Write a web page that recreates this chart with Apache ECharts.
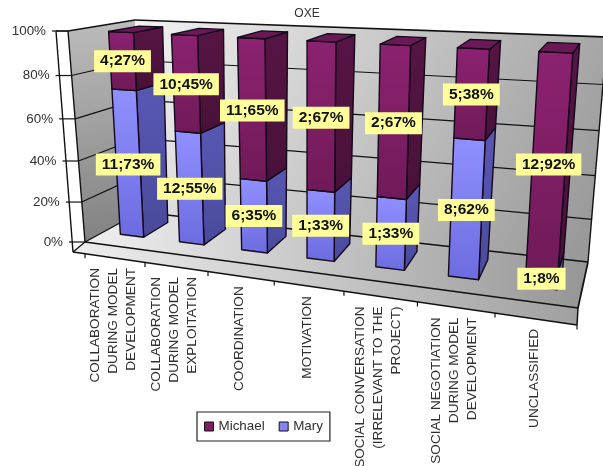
<!DOCTYPE html>
<html>
<head>
<meta charset="utf-8">
<style>html,body{margin:0;padding:0;background:#fff}#c{width:603px;height:466px;filter:blur(0.4px)}</style>
<script src="https://cdn.jsdelivr.net/npm/echarts@6/dist/echarts.min.js"></script>
</head>
<body>
<div id="c"></div>
<script>
var categories = [
  'COLLABORATION\nDURING MODEL\nDEVELOPMENT',
  'COLLABORATION\nDURING MODEL\nEXPLOITATION',
  'COORDINATION',
  'MOTIVATION',
  'SOCIAL CONVERSATION\n(IRRELEVANT TO THE\nPROJECT)',
  'SOCIAL NEGOTIATION\nDURING MODEL\nDEVELOPMENT',
  'UNCLASSIFIED'
];
var maryCounts = [11, 12, 6, 1, 1, 8, 1];
var michaelCounts = [4, 10, 11, 2, 2, 5, 12];
var maryPct = [73, 55, 35, 33, 33, 62, 8];
var michaelPct = [27, 45, 65, 67, 67, 38, 92];
var yTicks = [0, 20, 40, 60, 80, 100];

// Picture plane of the 3-D box (projection constants, not data)
var W = 603, H = 466;
var FL0 = [85, 242], FR0 = [578, 308], FL1 = [68, 31], FR1 = [595, 57];
var BL0 = [140, 212], BR0 = [588, 262], BL1 = [135, 20], BR1 = [607, 37];
var SL = [73, 252], SR = [577, 325];
var BAR_FRONT = 0.33, BAR_BACK = 0.8, BAR_HALF = 0.2, BAR_TOP = 0.985;

function warpU(u) { return u / (1 + 0.2 * (1 - u)); }
function warpV(v) { return v / (1 + 0.07 * (1 - v)); }
function lerp(a, b, t) { return [a[0] + (b[0] - a[0]) * t, a[1] + (b[1] - a[1]) * t]; }
function project(u, v, w) {
  var U = warpU(u), V = warpV(v);
  var f = lerp(lerp(FL0, FR0, U), lerp(FL1, FR1, U), V);
  var b = lerp(lerp(BL0, BR0, U), lerp(BL1, BR1, U), V);
  return lerp(f, b, w);
}
function uv(api, cat, val) {
  var c = api.coord([cat, val]);
  return [c[0] / W, 1 - c[1] / H];
}
var LG = echarts.graphic.LinearGradient;
function grad(x, y, x2, y2, a, b) {
  return new LG(x, y, x2, y2, [{ offset: 0, color: a }, { offset: 1, color: b }]);
}
function poly(points, fill, stroke, lw) {
  return { type: 'polygon', shape: { points: points }, style: { fill: fill, stroke: stroke || null, lineWidth: lw || 1.2, lineJoin: 'round' } };
}
function line(a, b, lw, color) {
  return { type: 'line', shape: { x1: a[0], y1: a[1], x2: b[0], y2: b[1] }, style: { stroke: color || '#111111', lineWidth: lw || 1.3 } };
}

function renderFrame(params, api) {
  var ch = [];
  // back wall
  ch.push(poly([BL1, BR1, BR0, BL0], grad(0, 0, 1, 1, '#f2f2f2', '#949494')));
  // floor
  ch.push(poly([BL0, BR0, FR0, FL0], grad(0, 0, 1, 0.25, '#f0f0f0', '#969696')));
  // front slab
  ch.push(poly([FL0, FR0, SR, SL], grad(0, 0, 1, 0, '#eeeeee', '#a0a0a0')));
  // left outer strip
  ch.push(poly([[56, 31], FL1, FL0, SL], '#ffffff'));
  // left wall
  ch.push(poly([FL1, BL1, BL0, FL0], grad(0, 0, 0.2, 1, '#bcbcbc', '#828282')));
  // outlines of the box
  ch.push(line(FL1, BL1, 1.6), line(BL1, BR1, 1.6), line(BR1, BR0, 1.4), line(BL0, BR0, 1.3));
  ch.push(line(FL1, FL0, 1.4), line(BL0, FL0, 1.4), line(FL0, FR0, 1.4), line(BR0, FR0, 1.7), line(FR0, SR, 1.5));
  ch.push(line(SL, SR, 1.4), line(FL0, SL, 1.3), line(SL, [56, 31], 1.4), line([56, 31], FL1, 1.3));
  // value gridlines, ticks and tick labels
  var nCat = categories.length;
  yTicks.forEach(function (t) {
    var v = uv(api, 0, t)[1];
    var f = project(0, v, 0), b = project(0, v, 1), r = project(1, v, 1);
    if (t > 0 && t < 100) {
      ch.push(line(f, b, 1.2), line(b, r, 1.2));
    }
    var outerX = f[0] - 12;
    ch.push(line([outerX - 4, f[1]], f, 1.2));
    ch.push({
      type: 'text', x: outerX - 10, y: f[1],
      style: { text: t + '%', align: 'right', verticalAlign: 'middle', fill: '#303030', font: '13.4px "Liberation Sans", Arial, sans-serif' }
    });
  });
  // category ticks and labels
  function slab(u) { return lerp([85, 253.7], SR, warpU(u)); }
  for (var i = 0; i <= nCat; i++) {
    var p = slab(i / nCat);
    ch.push(line(p, [p[0], p[1] + 4.5], 1.2));
  }
  categories.forEach(function (name, i) {
    var u = uv(api, i, 0)[0];
    var p = slab(u);
    ch.push({
      type: 'text', x: p[0] - 1.5, y: p[1] + 10, rotation: Math.PI / 2,
      style: { text: name, align: 'right', verticalAlign: 'middle', lineHeight: 18, fill: '#303030', font: '13.6px "Liberation Sans", Arial, sans-serif' }
    });
  });
  ch.push({
    type: 'text', x: 307, y: 14,
    style: { text: 'OXE', align: 'center', verticalAlign: 'middle', fill: '#303030', font: '12px "Liberation Sans", Arial, sans-serif' }
  });
  return { type: 'group', children: ch };
}

function barRenderer(colors) {
  return function (params, api) {
    var cat = api.value(0);
    var lo = uv(api, cat, api.value(1)), hi = uv(api, cat, api.value(2));
    var band = api.size([1, 0])[0] / W;
    var uL = lo[0] - band * BAR_HALF, uR = lo[0] + band * BAR_HALF;
    var v0 = lo[1] * BAR_TOP, v1 = hi[1] * BAR_TOP;
    var a = project(uL, v0, BAR_FRONT), b = project(uR, v0, BAR_FRONT), c = project(uR, v1, BAR_FRONT), d = project(uL, v1, BAR_FRONT);
    var e = project(uR, v0, BAR_BACK), f = project(uR, v1, BAR_BACK), g = project(uL, v1, BAR_BACK);
    var ch = [];
    ch.push(poly([b, e, f, c], grad(0, 0, 0, 1, colors.side[0], colors.side[1]), '#14081a', 1.4));
    ch.push(poly([a, b, c, d], grad(0, 0, 0, 1, colors.front[0], colors.front[1]), '#14081a', 1.4));
    if (api.value(2) >= 100) ch.push(poly([d, c, f, g], colors.top, '#14081a', 1.3));
    return { type: 'group', children: ch };
  };
}

function renderLabel(params, api) {
  var cat = api.value(0);
  var lo = uv(api, cat, api.value(1)), hi = uv(api, cat, api.value(2));
  var p = project(lo[0], (lo[1] + hi[1]) / 2 * BAR_TOP, BAR_FRONT);
  return {
    type: 'text', x: p[0], y: p[1],
    style: {
      text: api.value(3) + ';' + api.value(4) + '%', align: 'center', verticalAlign: 'middle',
      fill: '#101010', font: 'bold 15.5px "Liberation Sans", Arial, sans-serif',
      backgroundColor: '#ffff99', padding: [3, 6, 3, 6]
    }
  };
}

var maryData = categories.map(function (_, i) { return [i, 0, maryPct[i], maryCounts[i], maryPct[i]]; });
var michaelData = categories.map(function (_, i) { return [i, maryPct[i], 100, michaelCounts[i], michaelPct[i]]; });
var dims = { x: 0, y: [1, 2] };

var chart = echarts.init(document.getElementById('c'), null, { renderer: 'canvas', width: W, height: H });
chart.setOption({
  animation: false,
  backgroundColor: '#ffffff',
  grid: { left: 0, right: 0, top: 0, bottom: 0 },
  xAxis: { type: 'category', data: categories, show: false },
  yAxis: { type: 'value', min: 0, max: 100, interval: 20, show: false },
  legend: {
    data: ['Michael', 'Mary'], left: 197, top: 412, orient: 'horizontal',
    padding: [8, 7, 8, 7], itemWidth: 9, itemHeight: 9, itemGap: 14, icon: 'rect',
    backgroundColor: '#ffffff', borderColor: '#222222', borderWidth: 1.2,
    itemStyle: { borderColor: '#111111', borderWidth: 1 },
    textStyle: { fontFamily: '"Liberation Sans", Arial, sans-serif', fontSize: 13.4, color: '#303030' }
  },
  series: [
    { type: 'custom', name: 'frame', z: 1, silent: true, data: [[0, 0]], encode: { x: 0, y: 1 }, renderItem: renderFrame },
    { type: 'custom', name: 'Mary', z: 2, data: maryData, encode: dims, itemStyle: { color: '#8484F4' },
      renderItem: barRenderer({ front: ['#9090ff', '#6c6ce0'], side: ['#5858b4', '#4a4a9c'], top: '#6c6cd0' }) },
    { type: 'custom', name: 'Michael', z: 3, data: michaelData, encode: dims, itemStyle: { color: '#7E1F66' },
      renderItem: barRenderer({ front: ['#8c2270', '#701a58'], side: ['#561545', '#481138'], top: '#691a55' }) },
    { type: 'custom', name: 'Mary values', z: 4, data: maryData, encode: dims, renderItem: renderLabel },
    { type: 'custom', name: 'Michael values', z: 4, data: michaelData, encode: dims, renderItem: renderLabel }
  ]
});
</script>
</body>
</html>
